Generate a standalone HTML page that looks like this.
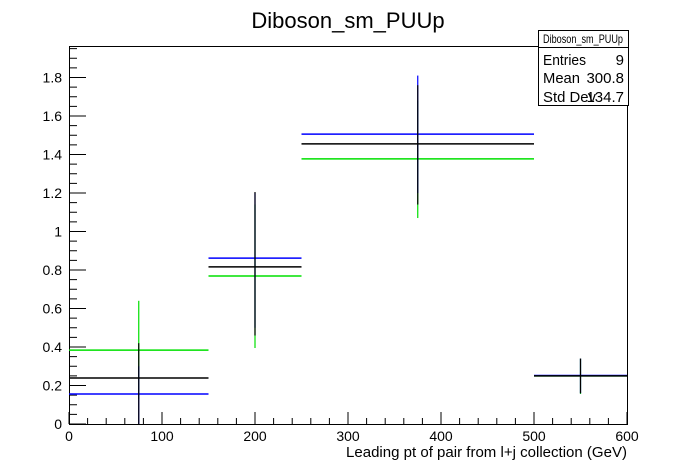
<!DOCTYPE html>
<html><head><meta charset="utf-8"><style>
body{margin:0;background:#fff}
svg{display:block;font-family:"Liberation Sans",Arial,sans-serif}
</style></head><body>
<svg id="c" width="696" height="472">
<rect width="696" height="472" fill="#fff"/>
<text x="348" y="28" font-size="22" text-anchor="middle">Diboson_sm_PUUp</text>
<g id="axes"></g>
<g id="marks"></g>
<text x="627" y="457" font-size="15" text-anchor="end" textLength="281" lengthAdjust="spacingAndGlyphs">Leading pt of pair from l+j collection (GeV)</text>
<g>
<rect x="538.5" y="30.5" width="90" height="75" fill="#fff" stroke="#000"/>
<line x1="538.5" y1="47.5" x2="628.5" y2="47.5" stroke="#000"/>
<text x="543" y="43" font-size="12" textLength="80" lengthAdjust="spacingAndGlyphs">Diboson_sm_PUUp</text>
<text x="543" y="65" font-size="15" textLength="43" lengthAdjust="spacingAndGlyphs">Entries</text><text x="624" y="65" font-size="15" text-anchor="end">9</text>
<text x="543" y="83" font-size="15" textLength="37" lengthAdjust="spacingAndGlyphs">Mean</text><text x="624" y="83" font-size="15" text-anchor="end">300.8</text>
<text x="543" y="102" font-size="15" textLength="53" lengthAdjust="spacingAndGlyphs">Std Dev</text><text x="624" y="102" font-size="15" text-anchor="end">134.7</text>
</g>
</svg>
<script>
const binEdges=[0,150,250,500,600];
const binCenters=[75,200,375,550];
const blackVals=[0.239,0.816,1.455,0.25];
const blackLo=[0,0.46,1.14,0.16];
const blackHi=[0.42,1.205,1.76,0.34];
const blueVals=[0.156,0.862,1.506,0.252];
const blueLo=[0,0.5,1.2,0.16];
const blueHi=[0.3,1.2,1.81,0.34];
const greenVals=[0.384,0.769,1.377,0.25];
const greenLo=[0.13,0.395,1.07,0.156];
const greenHi=[0.64,1.14,1.68,0.34];
const xTicks=[0,100,200,300,400,500,600];
const yTicks=[0,0.2,0.4,0.6,0.8,1,1.2,1.4,1.6,1.8];
const X0=69,X1=627,Y0=424,YT=46;
const sx=v=>X0+v*(X1-X0)/600;
const sy=v=>Y0-v*192.5;
const NS="http://www.w3.org/2000/svg";
function mk(tag,attrs,parent){const e=document.createElementNS(NS,tag);for(const k in attrs)e.setAttribute(k,attrs[k]);parent.appendChild(e);return e;}
const ax=document.getElementById('axes'),mg=document.getElementById('marks');
const frame=mk('rect',{x:X0+0.5,y:YT+0.5,width:X1-X0,height:Y0-YT,fill:'none',stroke:'#000'},ax);


for(let v=0;v<=600;v+=20){const maj=v%100===0;const l=mk('line',{x1:sx(v),x2:sx(v),y1:Y0,y2:Y0-(maj?12:6),stroke:'#000'},ax);

}
xTicks.forEach(v=>{const t=mk('text',{x:sx(v),y:Y0+17,'font-size':14,'text-anchor':'middle'},ax);t.textContent=v;

});
for(let i=0;i*0.05<=1.96;i++){const v=i*0.05;const maj=i%4===0;const l=mk('line',{x1:X0,x2:X0+(maj?17:8),y1:sy(v),y2:sy(v),stroke:'#000'},ax);

}
yTicks.forEach(v=>{const t=mk('text',{x:X0-7,y:sy(v)+5,'font-size':14,'text-anchor':'end'},ax);t.textContent=String(v);

});
function series(vals,lo,hi,color,name){
 vals.forEach((v,i)=>{
  const h=mk('line',{x1:sx(binEdges[i]),x2:sx(binEdges[i+1]),y1:sy(v),y2:sy(v),stroke:color,'stroke-width':1.5},mg);
  
  
  const e=mk('line',{x1:sx(binCenters[i]),x2:sx(binCenters[i]),y1:sy(lo[i]),y2:sy(hi[i]),stroke:color,'stroke-width':1.2},mg);
  
  
 });
}
series(greenVals,greenLo,greenHi,'#00e000','green-series');
series(blueVals,blueLo,blueHi,'#0000ff','blue-series');
series(blackVals,blackLo,blackHi,'#000','black-series');
</script>
</body></html>
